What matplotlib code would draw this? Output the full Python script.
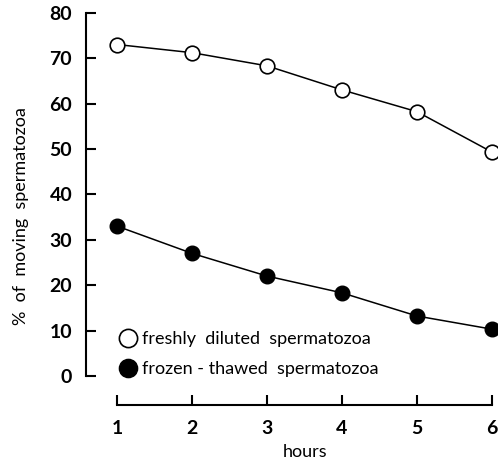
import matplotlib.pyplot as plt

hours = [1, 2, 3, 4, 5, 6]
fresh = [73.0, 71.2, 68.3, 63.0, 58.2, 49.3]
frozen = [33.0, 27.0, 22.0, 18.3, 13.2, 10.3]
yticks = [0, 10, 20, 30, 40, 50, 60, 70, 80]

plt.rcParams['font.family'] = ['Lato', 'DejaVu Sans']

fig = plt.figure(figsize=(4.98, 4.63), dpi=100)
# axes box in pixels: x 86..498, y 5..405 (from top)
ax = fig.add_axes([86 / 498, (463 - 405) / 463, 412 / 498, 400 / 463])

ax.plot(hours, fresh, '-', color='black', lw=1.1, marker='o', ms=10.5,
        mfc='white', mec='black', mew=1.2, clip_on=False,
        label='freshly  diluted  spermatozoa')
ax.plot(hours, frozen, '-', color='black', lw=1.1, marker='o', ms=10.5,
        mfc='black', mec='black', clip_on=False,
        label='frozen - thawed  spermatozoa')

ax.set_xlim(0.587, 6.08)
ax.set_ylim(-6.4, 81.7)

for s in ['top', 'right']:
    ax.spines[s].set_visible(False)
ax.spines['left'].set_bounds(0, 80)
ax.spines['bottom'].set_bounds(1, 6)
for s in ['left', 'bottom']:
    ax.spines[s].set_linewidth(1.5)

ax.set_xticks(hours)
ax.set_yticks(yticks)
ax.tick_params(direction='in', length=7.5, width=1.5, labelsize=14)
ax.tick_params(axis='y', pad=10)
ax.tick_params(axis='x', pad=11)
for lab in ax.get_xticklabels() + ax.get_yticklabels():
    lab.set_fontweight('bold')

ax.set_xlabel('hours', fontsize=13)
ax.set_ylabel('%  of  moving  spermatozoa', fontsize=13)
ax.xaxis.set_label_coords((305 - 86) / 412, -(444 - 405) / 400)
ax.yaxis.set_label_coords(-(86 - 29) / 412, (405 - 216) / 400)

ax.legend(loc='lower left', bbox_to_anchor=(0.083, 0.07), frameon=False,
          handlelength=0.9, handletextpad=0.3, labelspacing=0.75,
          fontsize=13, borderpad=0, borderaxespad=0, markerscale=1.25)

fig.savefig('out.png', dpi=100)
